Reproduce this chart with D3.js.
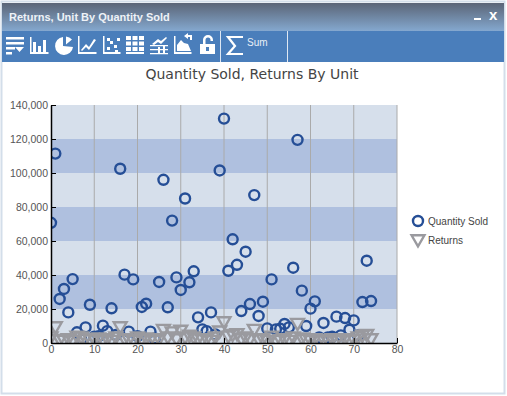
<!DOCTYPE html>
<html>
<head>
<meta charset="utf-8">
<script src="https://cdnjs.cloudflare.com/ajax/libs/d3/7.8.5/d3.min.js"></script>
<style>
  html, body { margin: 0; padding: 0; background: #fff; }
  svg { display: block; }
  .axis text { font-family: "Liberation Sans", Arial, sans-serif; font-size: 10.5px; fill: #555; }
  .axis line, .axis path { stroke: #000; }
</style>
</head>
<body>
<div id="chart-area"></div>
<script>
const chartTitle = "Quantity Sold, Returns By Unit"
const windowTitle = "Returns, Unit By Quantity Sold"
const seriesNames = ["Quantity Sold", "Returns"]
const xTicks = [0, 10, 20, 30, 40, 50, 60, 70, 80]
const yTicks = [0, 20000, 40000, 60000, 80000, 100000, 120000, 140000]

// unit number is the index in both arrays
const quantitySold = [
  70700, 111400, 25900, 31800, 18000, 37600, 6300, 2000, 9200, 22500,
  3700, 4000, 10200, 7000, 20400, 4700, 102500, 40200, 6700, 37400,
  4000, 21200, 23100, 6700, 2700, 35900, 96000, 21000, 72000, 38600,
  31200, 85000, 35700, 42200, 15100, 8000, 7000, 18000, 5000, 101500,
  132000, 42500, 61000, 46000, 18800, 53700, 22900, 87000, 15900, 24300,
  8600, 37400, 8000, 8400, 11200, 9200, 44300, 119500, 30800, 10000,
  20200, 24500, 3300, 11800, 3300, 3700, 15500, 4500, 14700, 7800,
  13300, 4500, 24100, 48400, 24700
]
const returnsSold = [
  4000, 10000, 2500, 2000, 3000, 2000, 4500, 4000, 3000, 2500,
  3000, 3500, 2000, 3000, 2000, 4000, 10000, 3000, 2500, 2000,
  4000, 3000, 3500, 2500, 2000, 3000, 8500, 4000, 7000, 3000,
  8000, 4000, 5000, 4000, 3000, 2500, 3000, 2000, 4000, 7500,
  13000, 4500, 5500, 6000, 3000, 4000, 3000, 8500, 2500, 3000,
  2000, 4500, 2000, 2500, 3000, 2000, 4000, 12000, 3500, 2500,
  2000, 3000, 2000, 2500, 2000, 3000, 2000, 2500, 3000, 2000,
  2500, 4000, 5000, 5500, 3000
]

const blue = "#254e96"
const grey = "#9a9a9f"

const dimensions = {
  width: 507,
  height: 396,
  margins: { top: 105, bottom: 53, left: 51, right: 110 }
}
dimensions.boundedWidth = dimensions.width - dimensions.margins.left - dimensions.margins.right
dimensions.boundedHeight = dimensions.height - dimensions.margins.top - dimensions.margins.bottom

const wrapper = d3.select("#chart-area").append("svg")
  .attr("width", dimensions.width)
  .attr("height", dimensions.height)

const defs = wrapper.append("defs")
const grad = defs.append("linearGradient").attr("id", "title-grad")
  .attr("x1", 0).attr("y1", 0).attr("x2", 0).attr("y2", 1)
grad.append("stop").attr("offset", "0%").attr("stop-color", "#5b6577")
grad.append("stop").attr("offset", "100%").attr("stop-color", "#84a8cf")
defs.append("clipPath").attr("id", "plot-clip").append("rect")
  .attr("width", dimensions.boundedWidth)
  .attr("height", dimensions.boundedHeight)

// window frame
wrapper.append("rect").attr("x", 1.5).attr("y", 1.5).attr("width", 503).attr("height", 392)
  .attr("fill", "#fff").attr("stroke", "#d3deea").attr("stroke-width", 2)
wrapper.append("rect").attr("x", 2).attr("y", 3).attr("width", 502).attr("height", 28)
  .attr("fill", "url(#title-grad)")
wrapper.append("rect").attr("x", 2).attr("y", 31).attr("width", 502).attr("height", 31)
  .attr("fill", "#4a7ebb")
wrapper.append("text").attr("x", 9).attr("y", 21)
  .attr("font-family", "Liberation Sans, Arial, sans-serif").attr("font-size", 11)
  .attr("font-weight", "bold").attr("fill", "#eef2f7").text(windowTitle)
wrapper.append("rect").attr("x", 474).attr("y", 18).attr("width", 7).attr("height", 2).attr("fill", "#fff")
wrapper.append("text").attr("x", 489).attr("y", 20)
  .attr("font-family", "Liberation Sans, Arial, sans-serif").attr("font-size", 15)
  .attr("font-weight", "bold").attr("fill", "#fff").text("x")

// toolbar icons
const icons = wrapper.append("g").attr("fill", "#fff").attr("stroke", "none")
const iconPaths = [
  "M6 37h18v2.500h-18zM6 42h18v2.500h-18zM6 47h9v2.500h-9zM6 52h6v2.500h-6zM15 47h9l-4.500 5z",
  "M30 37h1.500v15h17v2h-18.500zM33 42h3v10h-3zM38 46h3v6h-3zM43 40h3v12h-3z",
  "M63 37a9 9 0 1 0 10 10l-10 -1zM66 36.500a9 9 0 0 1 6 3l-6 5z",
  "M78 36h1.500v16h17v2h-18.500zM81 50l5 -6 3 3 5 -8 2 1 -7 10 -3 -3 -4 4z",
  "M103 36h1.500v16h16v2h-17.500zM107 47h3v3h-3zM110 41h3v3h-3zM114 45h3v3h-3zM117 38h3v3h-3zM107 38h3v3h-3zM115 50h3v2h-3z",
  "M126 36h5v4h-5zM132.500 36h5v4h-5zM139 36h5v4h-5zM126 41.500h5v4h-5zM132.500 41.500h5v4h-5zM139 41.500h5v4h-5zM126 47h5v4h-5zM132.500 47h5v4h-5zM139 47h5v4h-5zM126 52h18v2h-18z",
  "M150 45h18v1.200h-18zM150 49h18v1.200h-18zM150 53h18v1.200h-18zM152 44l6 -5 3 2 5 -4 1 1 -6 6 -3 -2 -4 3zM158 47h2v6h-2zM163 45h2v8h-2z",
  "M174 36h1.500v16h16v2h-17.500zM177 51v-6l4 -5 3 3 4 1 3 7zM184 36l4 -3v2h4v5h-2v-3h-2v2z",
  "M200 44h15v10h-15zM203 44v-4a5 5 0 0 1 10 0v1h-2.500v-1a2.500 2.500 0 0 0 -5 0v4z"
]
icons.selectAll("path").data(iconPaths).join("path").attr("d", d => d)
icons.append("rect").attr("x", 206).attr("y", 47).attr("width", 3).attr("height", 4).attr("fill", "#4a7ebb")
wrapper.append("path").attr("d", "M243 37h-15l7 9 -7 8h15").attr("fill", "none")
  .attr("stroke", "#fff").attr("stroke-width", 2.2)
wrapper.append("text").attr("x", 247).attr("y", 46)
  .attr("font-family", "Liberation Sans, Arial, sans-serif").attr("font-size", 10)
  .attr("fill", "#e8eef6").text("Sum")
wrapper.selectAll(".sep").data([220.5, 287.5]).join("line").attr("class", "sep")
  .attr("x1", d => d).attr("x2", d => d).attr("y1", 31).attr("y2", 62)
  .attr("stroke", "#dfe8f3")

wrapper.append("text").attr("x", 252).attr("y", 79).attr("text-anchor", "middle")
  .attr("font-family", "DejaVu Sans, Verdana, sans-serif").attr("font-size", 14)
  .attr("fill", "#444").text(chartTitle)

const bounds = wrapper.append("g")
  .attr("transform", `translate(${dimensions.margins.left}, ${dimensions.margins.top})`)

const xScale = d3.scaleLinear().domain([0, 80]).range([0, dimensions.boundedWidth])
const yScale = d3.scaleLinear().domain([0, 140000]).range([dimensions.boundedHeight, 0])

// alternating bands
bounds.selectAll(".band").data(d3.pairs(yTicks)).join("rect").attr("class", "band")
  .attr("x", 0)
  .attr("width", dimensions.boundedWidth)
  .attr("y", d => yScale(d[1]))
  .attr("height", d => yScale(d[0]) - yScale(d[1]))
  .attr("fill", (d, i) => i % 2 ? "#afc0df" : "#d6dfeb")

bounds.selectAll(".vline").data(xTicks.slice(1)).join("line").attr("class", "vline")
  .attr("x1", d => xScale(d)).attr("x2", d => xScale(d))
  .attr("y1", 0).attr("y2", dimensions.boundedHeight)
  .attr("stroke", "#aaa")

const points = bounds.append("g").attr("clip-path", "url(#plot-clip)")

points.selectAll("circle").data(quantitySold).join("circle")
  .attr("cx", (d, i) => xScale(i))
  .attr("cy", d => yScale(d))
  .attr("r", 5)
  .attr("fill", "none")
  .attr("stroke", blue)
  .attr("stroke-width", 2.4)

const triangle = d3.symbol().type(d3.symbolTriangle).size(72)
points.selectAll("path").data(returnsSold).join("path")
  .attr("d", triangle)
  .attr("transform", (d, i) => `translate(${xScale(i)}, ${yScale(d)}) rotate(180)`)
  .attr("fill", "none")
  .attr("stroke", grey)
  .attr("stroke-width", 2.4)

const xAxis = bounds.append("g").attr("class", "axis")
  .attr("transform", `translate(0, ${dimensions.boundedHeight})`)
  .call(d3.axisBottom(xScale).tickValues(xTicks).tickSize(-5).tickSizeOuter(0).tickPadding(4))
const yAxis = bounds.append("g").attr("class", "axis")
  .call(d3.axisLeft(yScale).tickValues(yTicks).tickSize(-5).tickSizeOuter(0).tickPadding(3).tickFormat(d3.format(",")))
xAxis.selectAll("text").attr("y", 3).attr("dy", "0.71em")
yAxis.select(".domain").attr("stroke-width", 1.5)
xAxis.select(".domain").attr("stroke-width", 1.5)

// legend
const legend = wrapper.append("g")
legend.append("circle").attr("cx", 418).attr("cy", 221).attr("r", 5)
  .attr("fill", "none").attr("stroke", blue).attr("stroke-width", 2.4)
legend.append("path").attr("d", triangle)
  .attr("transform", "translate(418, 239) rotate(180)")
  .attr("fill", "none").attr("stroke", grey).attr("stroke-width", 2.4)
legend.selectAll("text").data(seriesNames).join("text")
  .attr("x", 428)
  .attr("y", (d, i) => 225 + i * 19)
  .attr("font-family", "Liberation Sans, Arial, sans-serif")
  .attr("font-size", 10)
  .attr("fill", "#444")
  .text(d => d)
</script>
</body>
</html>
